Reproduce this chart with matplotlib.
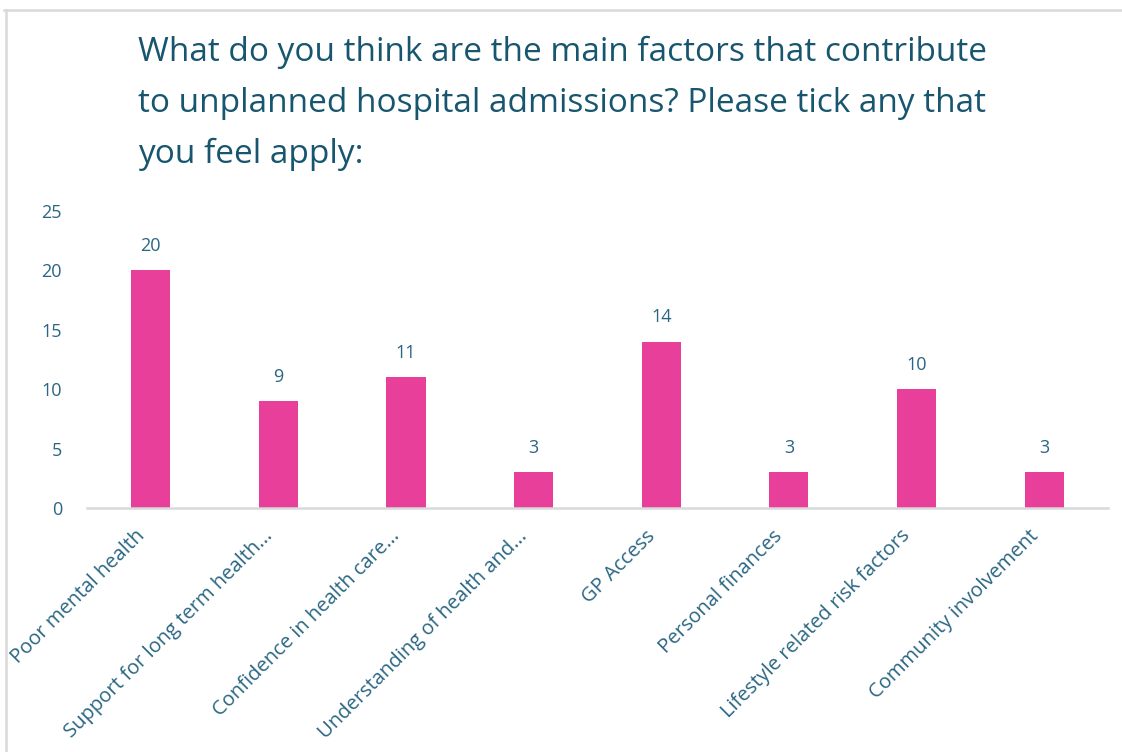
import matplotlib.pyplot as plt
import matplotlib.transforms as mtransforms
from matplotlib.lines import Line2D

categories = [
    "Poor mental health",
    "Support for long term health...",
    "Confidence in health care...",
    "Understanding of health and...",
    "GP Access",
    "Personal finances",
    "Lifestyle related risk factors",
    "Community involvement",
]
counts = [20, 9, 11, 3, 14, 3, 10, 3]
y_ticks = [0, 5, 10, 15, 20, 25]

title = ("What do you think are the main factors that contribute\n"
         "to unplanned hospital admissions? Please tick any that\n"
         "you feel apply:")

bar_color = "#E8409A"
title_color = "#17566E"
text_color = "#2A6682"
frame_color = "#D9D9D9"

plt.rcParams['font.family'] = ['Open Sans', 'DejaVu Sans']

fig = plt.figure(figsize=(11.22, 7.52), dpi=100)
ax = fig.add_axes([0.0775, 0.3245, 0.91, 0.3949])

x = range(len(categories))
bars = ax.bar(x, counts, width=0.306, color=bar_color, zorder=2)

for b, v in zip(bars, counts):
    ax.annotate(str(v), (b.get_x() + b.get_width() / 2, v),
                xytext=(0, 11), textcoords="offset points",
                ha="center", va="bottom", fontsize=13, color=text_color)

ax.set_xlim(-0.5, len(categories) - 0.5)
ax.set_ylim(0, 25)
ax.set_yticks(y_ticks)
ax.set_xticks(list(x))
ax.set_xticklabels(categories, rotation=45, ha="right", va="top",
                   rotation_mode="anchor", fontsize=14.5, color=text_color)
ax.tick_params(axis="y", length=0, pad=18, labelsize=13, labelcolor=text_color)
ax.tick_params(axis="x", length=0, pad=13)

# nudge the slanted category labels a little to the left
shift = mtransforms.ScaledTranslation(-16 / 100, 0, fig.dpi_scale_trans)
for lbl in ax.get_xticklabels():
    lbl.set_transform(lbl.get_transform() + shift)

for side in ["top", "right", "left"]:
    ax.spines[side].set_visible(False)
ax.spines["bottom"].set_color(frame_color)
ax.spines["bottom"].set_linewidth(1.8)

fig.text(0.123, 0.953, title, ha="left", va="top", fontsize=24,
         color=title_color, linespacing=1.72)

# light frame along the top and left edges
fig.add_artist(Line2D([0.004, 1.0], [0.987, 0.987], color=frame_color,
                      lw=1.8, transform=fig.transFigure))
fig.add_artist(Line2D([0.005, 0.005], [0.0, 0.987], color=frame_color,
                      lw=1.8, transform=fig.transFigure))

fig.savefig("out.png", dpi=100)
